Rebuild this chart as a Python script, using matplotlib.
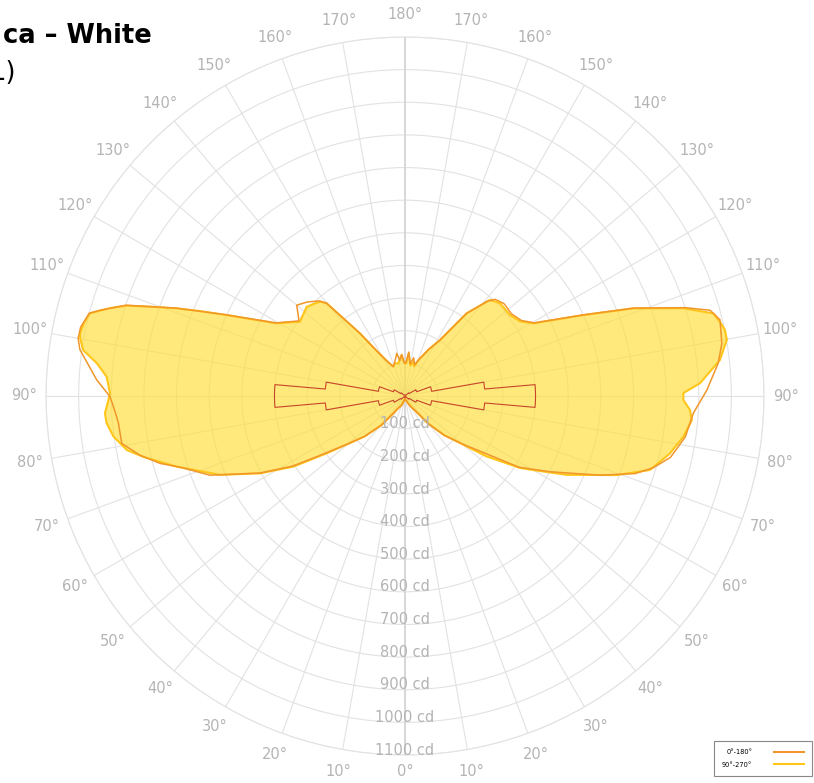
import numpy as np
import matplotlib
matplotlib.use('Agg')
import matplotlib.pyplot as plt
from matplotlib.lines import Line2D

# luminous intensity (cd) vs gamma angle
# C90 plane (right half, yellow)
c90_gamma = [0, 15, 25, 30, 35, 40, 45, 49.5, 53.4, 58, 60, 64, 69.5, 73.2, 77.7, 81.7,
             85.2, 87.2, 89.2, 90.6, 92.5, 96.5, 99.9, 101.7, 103, 105, 107.5, 111, 114.4,
             119.5, 123, 127.7, 134.3, 138.5, 143.3, 148, 153, 159, 163, 166, 170, 175, 178, 180]
c90_cd = [10, 15, 28, 40, 55, 110, 170, 222, 310, 416, 454, 551, 692, 784, 830, 862,
          882, 874, 853, 853, 905, 971, 1001, 1001, 993, 978, 894, 749, 600,
          452, 420, 406, 407, 393, 316, 202, 160, 120, 95, 108, 95, 131, 100, 100]

# C270 plane (left half, yellow)
c270_gamma = [0, 15, 20, 30, 34, 39, 45, 49.5, 53.8, 57.7, 61.9, 66.9, 72.8, 76.9, 79, 82.1,
              84.8, 86.7, 88.5, 90.5, 93.7, 96.1, 98.1, 100.1, 101, 103, 104.7, 106.6, 108,
              109.3, 111, 112.5, 114.4, 119.5, 125.3, 129, 132.2, 136, 138, 139.8, 144.3,
              147.9, 152, 158.2, 163, 168.4, 172, 175.4, 178, 180]
c270_cd = [10, 18, 30, 45, 64, 115, 175, 222, 297, 405, 503, 616, 732, 823, 868, 902,
           918, 921, 912, 904, 916, 950, 996, 1011, 1014, 1008, 998, 943, 896,
           828, 749, 680, 600, 452, 394, 400, 407, 395, 389, 372, 236,
           163, 125, 97, 105, 102, 115, 126, 105, 100]

# C0 plane (right half, orange)
c0_gamma = [0, 15, 25, 30, 35, 40, 45, 50, 55, 58, 62.4, 67.9, 71.4, 73.9, 77, 81.7,
            86.6, 91.1, 96, 99.4, 103.6, 105.7, 107.5, 111, 114.4, 119.5, 123, 127.7,
            133, 137, 139, 143.3, 148, 153, 159, 163, 167, 171, 175, 178, 180]
c0_cd = [10, 15, 28, 40, 55, 110, 170, 228, 315, 412, 501, 645, 745, 792, 835, 868,
         885, 925, 965, 984, 993, 971, 900, 752, 603, 455, 425, 412,
         415, 405, 385, 316, 202, 160, 120, 100, 120, 100, 135, 105, 100]

# C180 plane (left half, orange)
c180_gamma = [0, 15, 20, 30, 34, 39, 45, 50, 55, 58, 62, 67.9, 72.3, 74.6, 77.4, 80.5,
              84.6, 87, 89.9, 93, 98.1, 100, 102, 104.7, 105.7, 108, 111, 114.4, 119.5,
              125.3, 130, 134, 138, 139.8, 144.3, 147.9, 152, 158.2, 163, 169, 172,
              175.4, 178, 180]
c180_cd = [10, 18, 30, 45, 64, 115, 175, 228, 317, 405, 503, 645, 720, 778, 832, 880,
           882, 890, 904, 946, 1006, 1017, 1016, 1000, 971, 900, 752, 603, 455,
           398, 433, 415, 392, 372, 236, 163, 125, 97, 108, 133, 110,
           128, 105, 100]

# stepped profile (same on both sides)
step_edges = [0, 50, 60, 70, 80, 85, 95, 100, 110, 120, 130, 180]
step_cd = [3, 15, 38, 83, 245, 400, 245, 83, 38, 15, 3]

ring_values = list(range(100, 1101, 100))
angle_labels = list(range(0, 181, 10))

grid_col = '#e2e2e2'
label_col = '#b4b4b4'


def closed_curve(g_right, cd_right, g_left, cd_left):
    th = np.concatenate([np.array(g_right, float), 360 - np.array(g_left, float)[::-1]])
    r = np.concatenate([np.array(cd_right, float), np.array(cd_left, float)[::-1]])
    return np.radians(th), r


def step_curve(edges, vals):
    g, r = [], []
    for a, b, v in zip(edges[:-1], edges[1:], vals):
        seg = np.linspace(a, b, 12)
        g.extend(seg)
        r.extend([v] * len(seg))
    g = np.array(g)
    r = np.array(r, float)
    th = np.concatenate([g, 360 - g[::-1]])
    rr = np.concatenate([r, r[::-1]])
    return np.radians(th), rr


fig = plt.figure(figsize=(8.14, 7.83), dpi=100)
W, H = 814, 783
cx, cy, R = 405, 396, 359
ax = fig.add_axes([(cx - R) / W, (H - cy - R) / H, 2 * R / W, 2 * R / H], projection='polar')
ax.set_theta_zero_location('S')
ax.set_theta_direction(1)
ax.set_rlim(0, 1100)
ax.set_xticks(np.radians(np.arange(0, 360, 10)))
ax.set_xticklabels([])
ax.set_yticks(ring_values)
ax.set_yticklabels([])
ax.grid(True, color=grid_col, lw=0.8)
ax.set_axisbelow(True)
ax.spines['polar'].set_color(grid_col)
ax.spines['polar'].set_linewidth(0.8)
ax.plot([0, 0], [0, 1100], color='#d6d6d6', lw=1.3, zorder=0.6)
ax.plot([np.pi, np.pi], [0, 1100], color='#d6d6d6', lw=1.3, zorder=0.6)

th_y, r_y = closed_curve(c90_gamma, c90_cd, c270_gamma, c270_cd)
th_o, r_o = closed_curve(c0_gamma, c0_cd, c180_gamma, c180_cd)
ax.fill(th_y, r_y, color='#FFDF3F', alpha=0.68, lw=0, zorder=1)
ax.plot(np.append(th_y, th_y[0]), np.append(r_y, r_y[0]), color='#FFC61A', lw=1.5, zorder=2)
ax.plot(np.append(th_o, th_o[0]), np.append(r_o, r_o[0]), color='#F0962A', lw=1.1, zorder=3)

th_s, r_s = step_curve(step_edges, step_cd)
ax.plot(th_s, r_s, color='#C8452A', lw=0.8, zorder=4)

# ring labels
for v in ring_values:
    ax.text(0, v - 15, f'{v} cd', ha='center', va='center', color=label_col,
            fontsize=10.5, zorder=6)

# angle labels
for g in angle_labels:
    rr = 1150 if g == 0 else 1168
    ax.text(np.radians(g), rr, f'{g}°', ha='center', va='center', color=label_col,
            fontsize=10.5, clip_on=False)
    if 0 < g < 180:
        ax.text(np.radians(360 - g), rr, f'{g}°', ha='center', va='center',
                color=label_col, fontsize=10.5, clip_on=False)

# title (cut off at the left edge, as in the source image)
fig.text(152 / W, 1 - 43 / H, 'ca – White', ha='right', va='baseline',
         fontsize=18.5, fontweight='bold', color='black')
fig.text(16 / W, 1 - 80 / H, '1)', ha='right', va='baseline', fontsize=18.5, color='black')

handles = [Line2D([], [], color='#F0962A', lw=1.5), Line2D([], [], color='#FFC61A', lw=1.5)]
leg = fig.legend(handles, ['0°-180°', '90°-270°'], loc='lower right',
                 bbox_to_anchor=(815 / W, 4 / H), markerfirst=False, fontsize=4.8,
                 fancybox=False, edgecolor='#888888', framealpha=1, handlelength=4.5,
                 handletextpad=3.2, borderpad=1.2, labelspacing=1.0)
leg.get_frame().set_linewidth(0.8)

fig.savefig('out.png', dpi=100)
